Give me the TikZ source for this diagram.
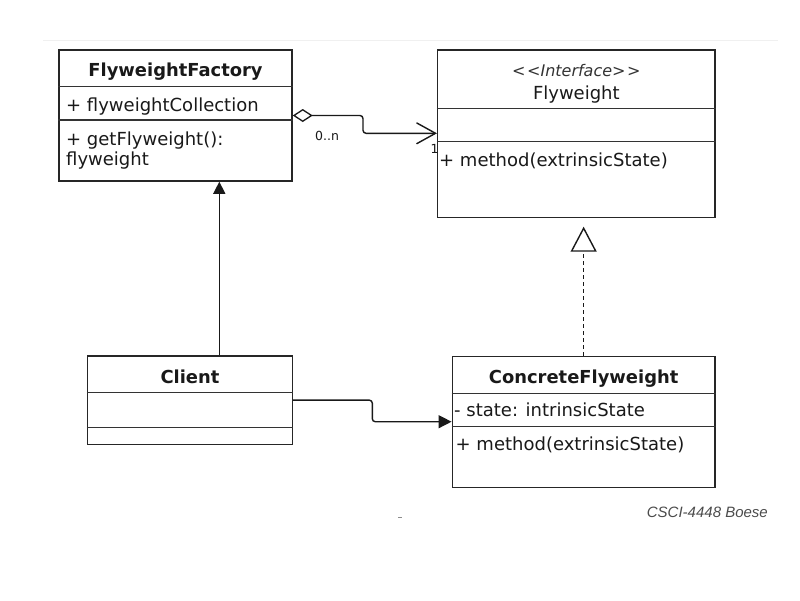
\documentclass[tikz,border=0pt]{standalone}
\usepackage{fontspec}
\setmainfont{DejaVu Sans}
\newfontfamily\notefont{Liberation Sans}
\usetikzlibrary{arrows.meta,calc}
\begin{document}
\begin{tikzpicture}[x=1pt,y=-1pt,
  classbox/.style={draw=black!85, line width=1.5pt, inner sep=0pt, fill=white},
  sepline/.style={draw=black!80, line width=1.2pt},
  conn/.style={draw=black!90, line width=1.4pt, rounded corners=3pt},
  txt/.style={inner sep=0pt, anchor=base west, text=black!90, font=\fontsize{18}{20}\selectfont},
  ctitle/.style={inner sep=0pt, anchor=base, text=black!90, font=\fontsize{17.9}{20}\selectfont\bfseries},
  small/.style={inner sep=0pt, anchor=base west, text=black!90, font=\fontsize{12.5}{14}\selectfont}
]
\fill[white] (0,0) rectangle (800,600);
\useasboundingbox (0,0) rectangle (800,600);

% faint rule along the top
\draw[black!6, line width=1pt] (43,40) -- (778,40);

% class boxes
\node[classbox, minimum width=233pt, minimum height=131pt] (factory) at (175.5,115.5) {};
\node[classbox, minimum width=277.3pt, minimum height=167.7pt] (flyweight) at (576.35,133.85) {};
\node[classbox, minimum width=204.6pt, minimum height=88.3pt] (client) at (190,400.15) {};
\node[classbox, minimum width=262.7pt, minimum height=131pt] (concrete) at (583.65,422.2) {};

% compartment separators
\draw[sepline] (factory.west |- 0,86.7) -- (factory.east |- 0,86.7);
\draw[sepline] (factory.west |- 0,120) -- (factory.east |- 0,120);
\draw[sepline] (flyweight.west |- 0,108.3) -- (flyweight.east |- 0,108.3);
\draw[sepline] (flyweight.west |- 0,141.7) -- (flyweight.east |- 0,141.7);
\draw[sepline] (client.west |- 0,392.7) -- (client.east |- 0,392.7);
\draw[sepline] (client.west |- 0,427.3) -- (client.east |- 0,427.3);
\draw[sepline] (concrete.west |- 0,393.3) -- (concrete.east |- 0,393.3);
\draw[sepline] (concrete.west |- 0,426.7) -- (concrete.east |- 0,426.7);

% FlyweightFactory
\node[ctitle] (ftitle) at (175.5,76.7) {FlyweightFactory};
\node[txt] (fattr) at (66,111) {+ flyweightCollection};
\node[txt] (fop1) at (66,145) {+ getFlyweight():};
\node[txt] (fop2) at (66,165) {flyweight};

% Flyweight interface
\node[inner sep=0pt, anchor=base, text=black!80, font=\fontsize{16}{18}\selectfont\itshape] (stereo) at (576.35,76.7) {<\kern1.5pt<Interface>\kern1.5pt>};
\node[inner sep=0pt, anchor=base, text=black!90, font=\fontsize{18}{20}\selectfont] (ititle) at (576.35,99) {Flyweight};
\node[txt] (iop) at (439,166) {+ method(extrinsicState)};

% Client
\node[ctitle] (ctitle) at (190,383.3) {Client};

% ConcreteFlyweight
\node[ctitle] (cftitle) at (583.65,383.3) {ConcreteFlyweight};
\node[txt] (cfattr) at (454,416.7) {- state: intrinsicState};
\node[txt] (cfop) at (455.5,450) {+ method(extrinsicState)};

% aggregation: factory holds flyweights
\draw[conn, {Diamond[open, length=20pt, width=13pt, line width=1.3pt]}-{Straight Barb[length=19pt, width=21pt, line width=1.4pt]}]
  (factory.east) -- (363,115.5) -- (363,133.3) -- (flyweight.west |- 0,133.3);
\node[small] (mult1) at (315,140) {0..n};
\node[small] (mult2) at (430.5,153) {1};

% client uses the factory
\draw[conn, -{Triangle[length=12pt, width=12pt]}]
  ([xshift=29.3pt]client.north) -- ([xshift=29.3pt]client.north |- factory.south);

% client uses concrete flyweights
\draw[conn, -{Triangle[length=13pt, width=13pt]}]
  (client.east) -- (372.3,400.15) -- (372.3,421.7) -- (concrete.west |- 0,421.7);

% realization of the interface
\draw[draw=black!90, line width=1.4pt, dash pattern=on 4pt off 3pt, -{Triangle[open, length=25pt, width=26pt, line width=1.4pt, fill=white]}]
  (concrete.north) -- (concrete.north |- 0,226.7);

% footer
\node[inner sep=0pt, anchor=base east, text=black!70, font=\notefont\itshape\fontsize{15}{18}\selectfont] (credit) at (768,517) {CSCI-4448 Boese};
\draw[black!45, line width=1pt] (398,517.3) -- (402,517.3);
\end{tikzpicture}
\end{document}
